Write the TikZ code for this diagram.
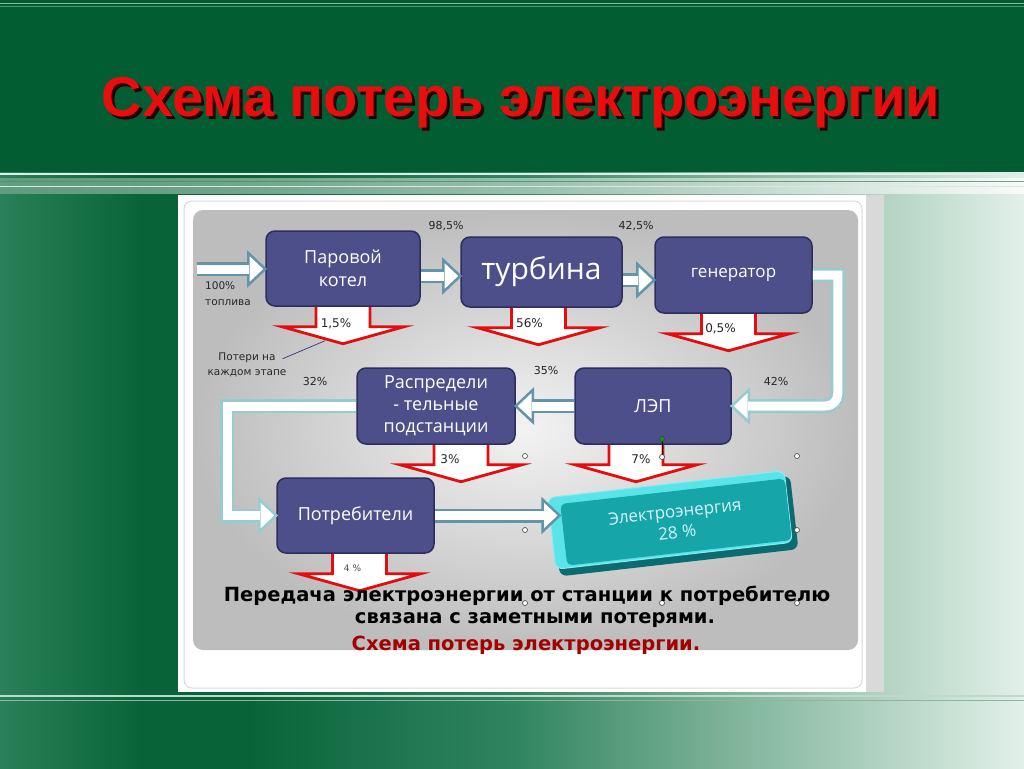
\documentclass[tikz,border=0pt]{standalone}
\usepackage{fontspec}
\setmainfont{DejaVu Sans}
\newfontfamily\boxfont{Open Sans}
\newfontfamily\titlefont{Liberation Sans}
\usetikzlibrary{calc}
\newcommand\myfs[2]{\fontsize{#1}{#2}\selectfont}
\definecolor{bandgreen}{RGB}{2,94,50}
\definecolor{nodefill}{RGB}{76,79,138}
\definecolor{nodeborder}{RGB}{44,46,92}
\definecolor{steel}{RGB}{98,148,172}
\definecolor{lteal}{RGB}{150,204,206}
\definecolor{lossred}{RGB}{228,12,12}
\definecolor{teal1}{RGB}{22,166,170}
\definecolor{teal2}{RGB}{90,228,232}
\definecolor{teal3}{RGB}{10,108,112}
\definecolor{darkred}{RGB}{165,0,0}
\definecolor{titlered}{RGB}{232,14,14}
\definecolor{bgA}{RGB}{42,128,88}
\definecolor{bgB}{RGB}{8,100,56}
\definecolor{bgC}{RGB}{48,132,96}
\definecolor{bgD}{RGB}{122,176,150}
\definecolor{bgE}{RGB}{226,240,233}
\pgfdeclarehorizontalshading{bgshade}{100bp}{color(0bp)=(bgA); color(25bp)=(bgA); color(32bp)=(bgB); color(37bp)=(bgB); color(50bp)=(bgC); color(60bp)=(bgD); color(75bp)=(bgE); color(100bp)=(bgE)}
\pgfdeclarelayer{back}
\pgfdeclarelayer{mid}
\pgfsetlayers{back,mid,main}
\tikzset{
  blockbox/.style={draw=nodeborder, line width=1.5pt, fill=nodefill, rounded corners=9pt, text=white, align=center, inner sep=0pt, font=\boxfont\myfs{18}{23}},
  shaft/.style={draw=#1, line width=2.5pt, double=white, double distance=9pt},
  headstyle/.style={draw=#1, fill=white, line width=2.5pt, line join=miter},
  headpic/.pic={\path[pic actions] (0,-16) -- (17,0) -- (0,16) -- cycle;},
  losspic/.pic={\path[pic actions] (-27,-4) -- (27,-4) -- (27,20) -- (61,20) -- (0,37) -- (-61,20) -- (-27,20) -- cycle;},
  lossstyle/.style={draw=lossred, fill=white, line width=2.8pt, line join=miter},
  pct/.style={font=\myfs{11}{13}, text=black!85, inner sep=0pt},
  losslab/.style={font=\myfs{12}{14}, text=black!85, inner sep=0pt},
  handle/.style={circle, draw=black!75, fill=white, line width=0.6pt, minimum size=5pt, inner sep=0pt},
  titlestyle/.style={font=\titlefont\bfseries\myfs{56}{64}, inner sep=0pt},
  bottomtext/.style={font=\bfseries\myfs{19.5}{24}, inner sep=0pt},
}
\begin{document}
\begin{tikzpicture}[x=1pt,y=-1pt]
\useasboundingbox (0,0) rectangle (1024,768);
\begin{pgfonlayer}{back}
% background
\shade[shading=bgshade] (0,170) rectangle (1024,768);
\fill[bandgreen] (0,0) rectangle (1024,172);
\draw[white!55!bandgreen, line width=1pt] (0,3.5) -- (1024,3.5);
\draw[white!35!bandgreen, line width=1pt] (0,7) -- (1024,7);
\fill[white!88!bandgreen] (0,172.5) rectangle (1024,175);
\shade[left color=white!45!bandgreen, right color=white, opacity=0.75] (0,178) rectangle (1024,193);
\draw[white!30!bandgreen, line width=1pt, opacity=0.8] (0,181) -- (1024,181);
\draw[white!85!bandgreen, line width=1pt] (0,186) -- (1024,186);
\draw[white!75!bandgreen, line width=1.5pt] (0,696) -- (1024,696);
\draw[white!55!bandgreen, line width=1pt] (0,700) -- (1024,700);
% panel
\fill[gray!30] (866,195) rectangle (884,692);
\fill[white] (178,195) rectangle (866,692);
\draw[gray!30, line width=1pt, rounded corners=8pt] (184,201) rectangle (862,688);
\shade[inner color=gray!10, outer color=gray!52, rounded corners=10pt] (193,210) rectangle (858,650);
\end{pgfonlayer}

% main boxes
\node[blockbox, minimum width=154pt, minimum height=75pt] (kotel) at (343,268.5) {Паровой\\котел};
\node[blockbox, minimum width=161pt, minimum height=70pt, font=\boxfont\myfs{30}{34}] (turb) at (541.5,272) {турбина};
\node[blockbox, minimum width=157pt, minimum height=76pt, font=\boxfont\myfs{17}{20}] (gen) at (733.5,275) {генератор};
\node[blockbox, minimum width=158pt, minimum height=76pt, font=\boxfont\myfs{18}{22}] (raspr) at (436,406) {Распредели\\- тельные\\подстанции};
\node[blockbox, minimum width=156pt, minimum height=76pt] (lep) at (653,406) {ЛЭП};
\node[blockbox, minimum width=157pt, minimum height=75pt] (potr) at (355.5,515.5) {Потребители};

% electricity box
\node[rotate=6.5, fill=teal3, minimum width=240pt, minimum height=74pt, rounded corners=7pt] at (675,526) {};
\node[rotate=6.5, fill=teal2, draw=teal2!70!white, line width=1pt, minimum width=238pt, minimum height=72pt, rounded corners=7pt] at (670,520) {};
\node[rotate=6.5, fill=teal1, minimum width=226pt, minimum height=62pt, rounded corners=5pt, text=cyan!15!white, align=center, font=\boxfont\myfs{17}{21}] (elec) at (676,522) {Электроэнергия\\28 \%};

% loss arrows
\begin{pgfonlayer}{mid}
\pic[lossstyle] at (kotel.south) {losspic};
\pic[lossstyle] at ($(turb.south)+(-3,0)$) {losspic};
\pic[lossstyle] at ($(gen.south)+(-5,0)$) {losspic};
\pic[lossstyle] at ($(raspr.south)+(25,0)$) {losspic};
\pic[lossstyle] at ($(lep.south)+(-17,0)$) {losspic};
\pic[lossstyle] at ($(potr.south)+(4,0)$) {losspic};
\end{pgfonlayer}
\node[losslab] (l1) at ($(kotel.south)+(-7,17)$) {1,5\%};
\node[losslab] (l2) at ($(turb.south)+(-12,15)$) {56\%};
\node[losslab] (l3) at ($(gen.south)+(-13,15)$) {0,5\%};
\node[losslab] (l4) at ($(raspr.south)+(14,14)$) {3\%};
\node[losslab] (l5) at ($(lep.south)+(-12,14)$) {7\%};
\node[losslab, font=\myfs{9}{11}, text=black!70] (l6) at ($(potr.south)+(-3,14)$) {4 \%};

% flow arrows
\coordinate (fuel) at (197,269);
\coordinate (y2) at (0,276);
\coordinate (y3) at (0,280);
\coordinate (vx) at (227,0);
\pic[headstyle=steel] at ($(kotel.west |- fuel)+(-17,0)$) {headpic};
\draw[shaft=steel] (fuel) -- ($(kotel.west |- fuel)+(-16,0)$);
\pic[headstyle=steel] at ($(turb.west |- y2)+(-17,0)$) {headpic};
\draw[shaft=steel] (kotel.east |- y2) -- ($(turb.west |- y2)+(-16,0)$);
\pic[headstyle=steel] at ($(gen.west |- y3)+(-17,0)$) {headpic};
\draw[shaft=steel] (turb.east |- y3) -- ($(gen.west |- y3)+(-16,0)$);
\pic[headstyle=lteal, rotate=180] at ($(lep.east)+(17,0)$) {headpic};
\draw[shaft=lteal] (gen.east) -- ++(25,0) [rounded corners=12pt] |- ($(lep.east)+(16,0)$);
\pic[headstyle=steel, rotate=180] at ($(raspr.east)+(17,0)$) {headpic};
\draw[shaft=steel] (lep.west) -- ($(raspr.east)+(16,0)$);
\pic[headstyle=lteal] at ($(potr.west)+(-17,0)$) {headpic};
\draw[shaft=lteal] (raspr.west) -- (raspr.west -| vx) |- ($(potr.west)+(-16,0)$);
\coordinate (t7) at ($(elec.west |- potr.east)+(-4,0)$);
\pic[headstyle=steel] at ($(t7)+(-17,0)$) {headpic};
\draw[shaft=steel] (potr.east) -- ($(t7)+(-16,0)$);

% labels
\node[pct] (p1) at (446,226) {98,5\%};
\node[pct] (p2) at (636,226) {42,5\%};
\node[pct] (p3) at (315,381) {32\%};
\node[pct] (p4) at (546,370) {35\%};
\node[pct] (p5) at (776,381) {42\%};
\node[pct, align=left, anchor=west, font=\myfs{10.5}{16}] (fuellab) at (205,294) {100\%\\топлива};
\node[pct, align=center, font=\myfs{10.5}{15}] (note) at (247,365) {Потери на\\каждом этапе};
\draw[black!55!blue!60!gray, line width=0.7pt] ($(note.north east)+(-4,6)$) -- ($(kotel.south)+(-18,34)$);

% selection handles
\draw[black, line width=0.7pt] (662,439) -- (662,457);
\node[handle, fill=green!65!black] (g) at (662,439) {};
\foreach \hx/\hy in {525/456, 662/457, 797/456, 525/530, 797/530, 525/603, 662/603, 797/603}
  \node[handle] at (\hx,\hy) {};

% bottom text
\node[bottomtext, text=black] (t1) at (527,596) {Передача электроэнергии от станции к потребителю};
\node[bottomtext, text=black] (t2) at (535,620) {связана с заметными потерями.};
\node[bottomtext, text=darkred] (t3) at (526,645) {Схема потерь электроэнергии.};

% title
\node[titlestyle, text=black!85!red] at (524,106) {Схема потерь электроэнергии};
\node[titlestyle, text=titlered] (title) at (521,103) {Схема потерь электроэнергии};
\end{tikzpicture}
\end{document}
